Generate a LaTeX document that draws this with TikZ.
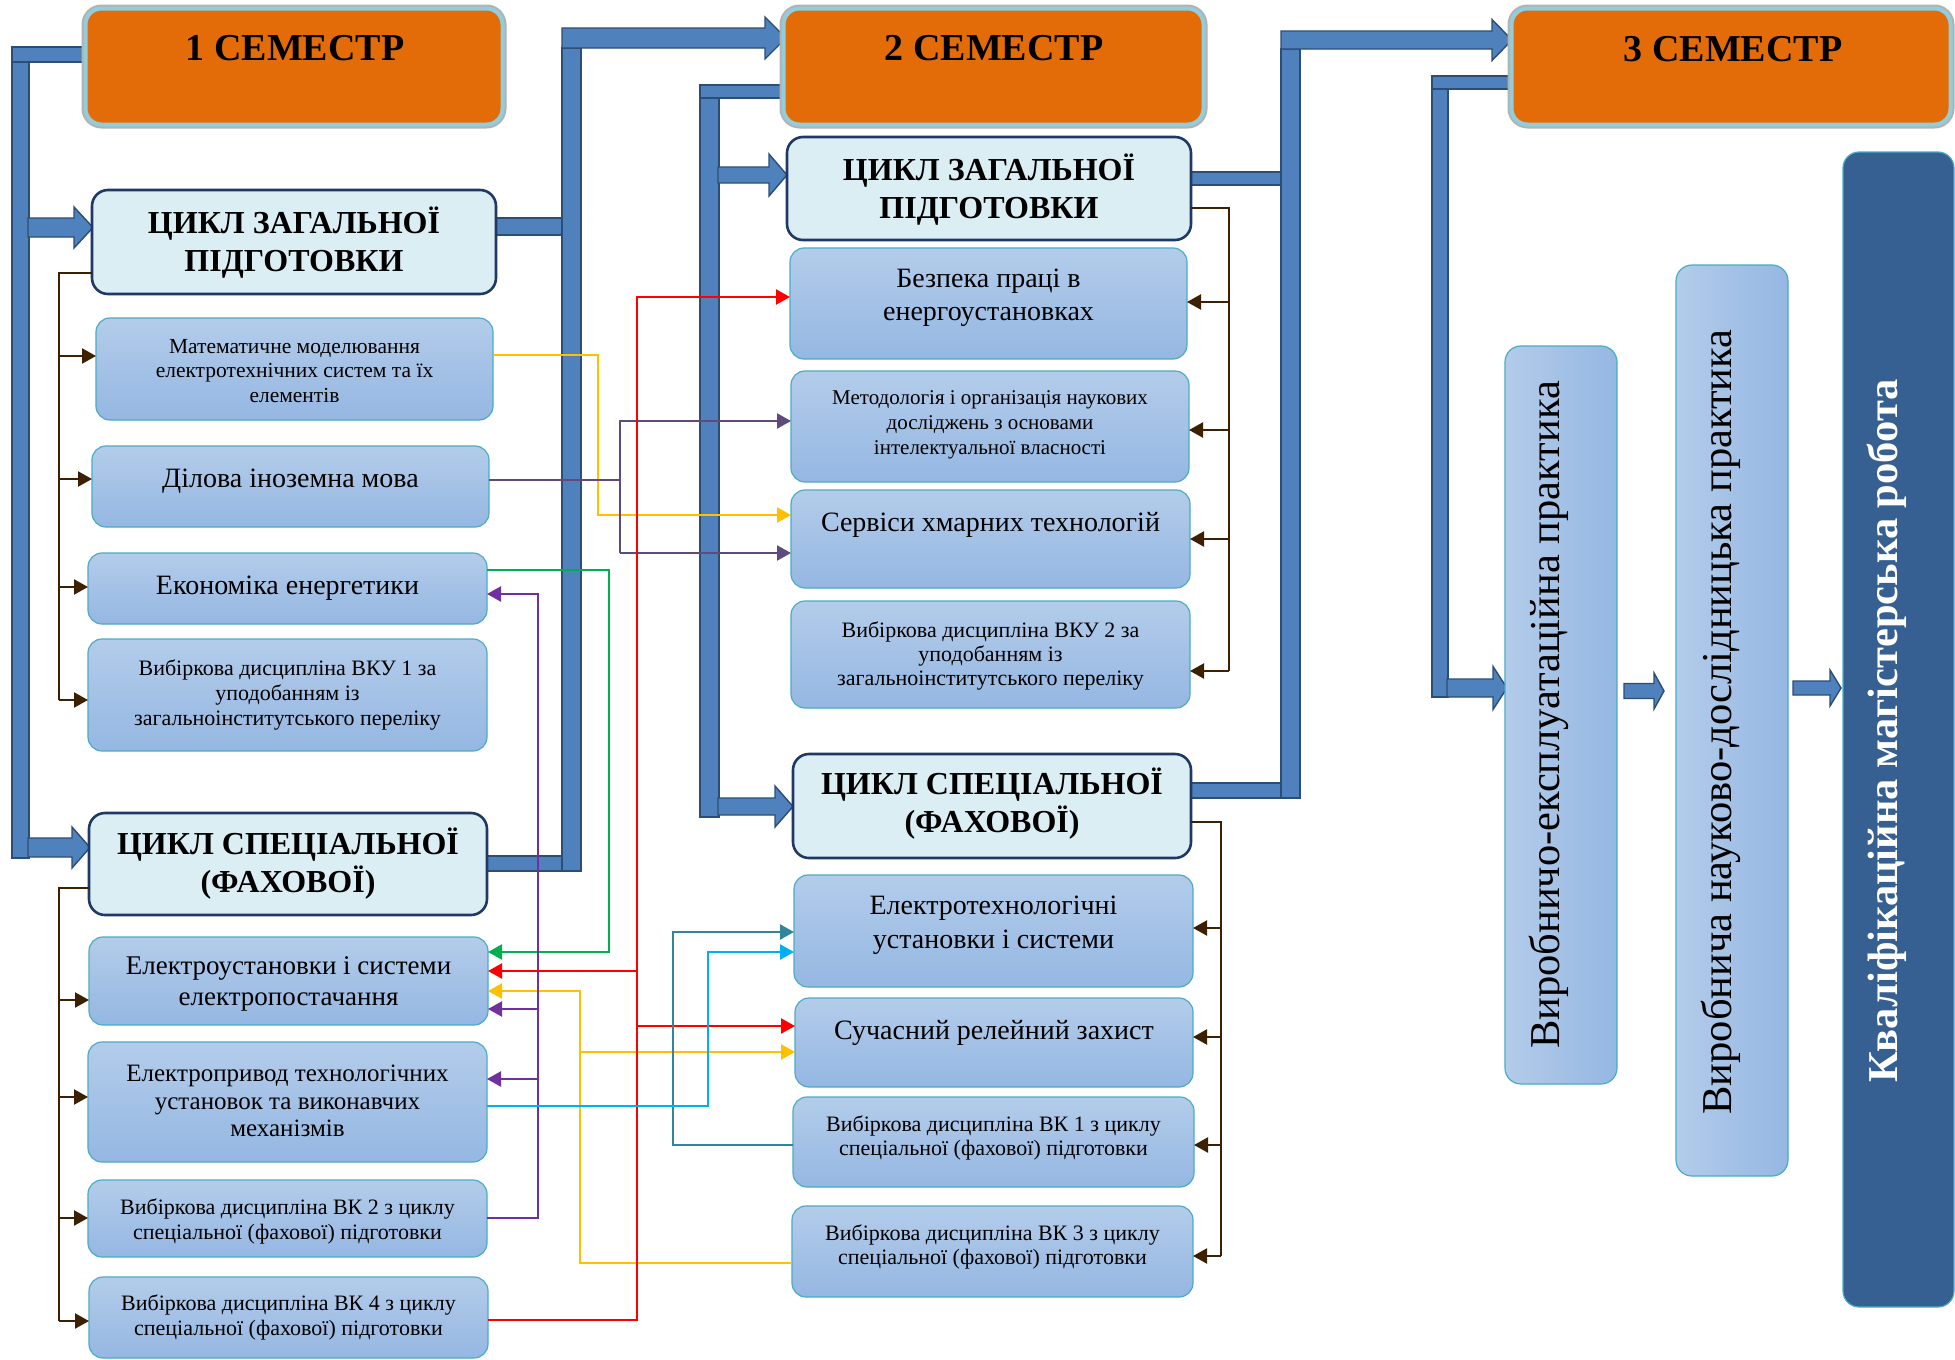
\documentclass[tikz,border=0pt]{standalone}
\usepackage{fontspec}
\setmainfont{Liberation Serif}
\usetikzlibrary{arrows.meta}
\definecolor{semor}{HTML}{E36C09}
\definecolor{semrim}{HTML}{92CDDC}
\definecolor{bandf}{HTML}{4F81BD}
\definecolor{bandd}{HTML}{2C4D75}
\definecolor{cycf}{HTML}{DBEEF4}
\definecolor{cycd}{HTML}{1F3864}
\definecolor{subt}{HTML}{B3CCEA}
\definecolor{subb}{HTML}{95B7E2}
\definecolor{subd}{HTML}{4BACC6}
\definecolor{qual}{HTML}{376092}
\definecolor{brn}{HTML}{3D1F02}
\definecolor{cyel}{HTML}{FFC000}
\definecolor{cred}{HTML}{FF0000}
\definecolor{cgrn}{HTML}{00B050}
\definecolor{cvio}{HTML}{7030A0}
\definecolor{cpur}{HTML}{604A7B}
\definecolor{cstl}{HTML}{31859C}
\definecolor{ccya}{HTML}{00B0F0}
\tikzset{
 band/.style={fill=bandf, draw=bandd, line width=1.4pt, line join=miter},
 sem/.style={rounded corners=16pt, fill=semor, draw=semrim, line width=4pt, preaction={draw=gray!60, line width=8pt}, inner sep=0pt, outer sep=0pt},
 cyc/.style={rounded corners=16pt, fill=cycf, draw=cycd, line width=2.6pt, inner sep=0pt, outer sep=0pt},
 subj/.style={rounded corners=14pt, top color=subt, bottom color=subb, draw=subd, line width=1.2pt, inner sep=0pt, outer sep=0pt},
 prac/.style={rounded corners=16pt, left color=subt, right color=subb, draw=subd, line width=1.2pt, inner sep=0pt, outer sep=0pt},
 qualbox/.style={rounded corners=16pt, fill=qual, draw=subd, line width=1.2pt, inner sep=0pt, outer sep=0pt},
 txt/.style={align=center, inner sep=0pt, text=black},
 semtxt/.style={txt, font=\bfseries\fontsize{38}{44}\selectfont},
 cyctxt/.style={txt, font=\bfseries\fontsize{32}{38}\selectfont},
 cline/.style={line width=2.2pt},
 brnline/.style={cline, draw=brn},
 arr/.style={-{Triangle[length=14pt,width=15pt]}},
}
\newcommand{\harrow}[6]{%
 \filldraw[band] (#1,#3-#4) -- (#2-#6,#3-#4) -- (#2-#6,#3-#5) -- (#2,#3) -- (#2-#6,#3+#5) -- (#2-#6,#3+#4) -- (#1,#3+#4) -- cycle;}
\begin{document}
\begin{tikzpicture}[x=1pt,y=-1pt]
\useasboundingbox (0,0) rectangle (1955,1360);
\fill[white] (0,0) rectangle (1955,1360);
% ---------- bands ----------
\filldraw[band] (12,62) rectangle (29,858);
\filldraw[band] (12,47) rectangle (86,62);
\harrow{28}{93}{227.5}{9.5}{20.5}{19}
\harrow{28}{90}{847.5}{9.5}{20.5}{18}
\filldraw[band] (496,218) rectangle (563,235);
\filldraw[band] (487,856) rectangle (563,871);
\filldraw[band] (562,48) rectangle (581,871);
\harrow{562}{786}{38}{10}{21}{21}
\filldraw[band] (700,85) rectangle (786,98);
\filldraw[band] (700,98) rectangle (719,817);
\harrow{718}{787}{175}{8}{21}{18}
\harrow{718}{793}{806.5}{8.5}{20.5}{18}
\filldraw[band] (1191,172) rectangle (1282,185);
\filldraw[band] (1191,783) rectangle (1282,798);
\filldraw[band] (1281,49) rectangle (1300,798);
\harrow{1281}{1512}{40}{9}{20.5}{20}
\filldraw[band] (1432,76) rectangle (1514,89);
\filldraw[band] (1432,89) rectangle (1448,697);
\harrow{1447}{1507}{688}{9}{21.5}{14}
\harrow{1624}{1664}{691}{7.5}{18}{10}
\harrow{1793}{1841}{688}{7}{18}{11}
% ---------- semester boxes ----------
\node[sem, minimum width=417pt, minimum height=116pt] (s1) at (294,66.5) {};
\node[semtxt] (s1t) at (295,48) {1 СЕМЕСТР};
\node[sem, minimum width=420pt, minimum height=116pt] (s2) at (993.5,66.5) {};
\node[semtxt] (s2t) at (994,48) {2 СЕМЕСТР};
\node[sem, minimum width=439pt, minimum height=116pt] (s3) at (1731,66.5) {};
\node[semtxt] (s3t) at (1733,49) {3 СЕМЕСТР};
% ---------- cycle boxes ----------
\node[cyc, minimum width=404pt, minimum height=104pt] (c1) at (294,242) {};
\node[cyctxt] (c1t) at (294,243) {ЦИКЛ ЗАГАЛЬНОЇ\\ПІДГОТОВКИ};
\node[cyc, minimum width=398pt, minimum height=102pt] (c2) at (288,864) {};
\node[cyctxt] (c2t) at (288,864) {ЦИКЛ СПЕЦІАЛЬНОЇ\\(ФАХОВОЇ)};
\node[cyc, minimum width=404pt, minimum height=103pt] (c3) at (989,188.5) {};
\node[cyctxt] (c3t) at (989,190) {ЦИКЛ ЗАГАЛЬНОЇ\\ПІДГОТОВКИ};
\node[cyc, minimum width=398pt, minimum height=104pt] (c4) at (992,806) {};
\node[cyctxt] (c4t) at (992,804) {ЦИКЛ СПЕЦІАЛЬНОЇ\\(ФАХОВОЇ)};
% ---------- semester 1 subjects ----------
\node[subj, minimum width=397pt, minimum height=102pt] (m1) at (294.5,369) {};
\node[txt, font=\fontsize{21.5}{24.5}\selectfont] (m1t) at (294.5,371) {Математичне моделювання\\електротехнічних систем та їх\\елементів};
\node[subj, minimum width=397pt, minimum height=81pt] (m2) at (290.5,486.5) {};
\node[txt, font=\fontsize{28}{32}\selectfont] (m2t) at (290.5,481) {Ділова іноземна мова};
\node[subj, minimum width=399pt, minimum height=71pt] (m3) at (287.5,588.5) {};
\node[txt, font=\fontsize{28}{32}\selectfont] (m3t) at (287.5,588) {Економіка енергетики};
\node[subj, minimum width=399pt, minimum height=112pt] (m4) at (287.5,695) {};
\node[txt, font=\fontsize{22}{25}\selectfont] (m4t) at (287.5,695) {Вибіркова дисципліна ВКУ 1 за\\уподобанням із\\загальноінститутського переліку};
\node[subj, minimum width=399pt, minimum height=88pt] (m5) at (288.5,981) {};
\node[txt, font=\fontsize{27}{31}\selectfont] (m5t) at (288.5,984) {Електроустановки і системи\\електропостачання};
\node[subj, minimum width=399pt, minimum height=120pt] (m6) at (287.5,1102) {};
\node[txt, font=\fontsize{25}{27.5}\selectfont] (m6t) at (287.5,1101) {Електропривод технологічних\\установок та виконавчих\\механізмів};
\node[subj, minimum width=399pt, minimum height=77pt] (m7) at (287.5,1218.5) {};
\node[txt, font=\fontsize{22}{25}\selectfont] (m7t) at (287.5,1221) {Вибіркова дисципліна ВК 2 з циклу\\спеціальної (фахової) підготовки};
\node[subj, minimum width=399pt, minimum height=81pt] (m8) at (288.5,1317.5) {};
\node[txt, font=\fontsize{22}{25}\selectfont] (m8t) at (288.5,1317) {Вибіркова дисципліна ВК 4 з циклу\\спеціальної (фахової) підготовки};
% ---------- semester 2 subjects ----------
\node[subj, minimum width=397pt, minimum height=111pt] (n1) at (988.5,303.5) {};
\node[txt, font=\fontsize{28}{33}\selectfont] (n1t) at (988.5,298) {Безпека праці в\\енергоустановках};
\node[subj, minimum width=398pt, minimum height=111pt] (n2) at (990,426.5) {};
\node[txt, font=\fontsize{21}{25}\selectfont] (n2t) at (990,425) {Методологія і організація наукових\\досліджень з основами\\інтелектуальної власності};
\node[subj, minimum width=399pt, minimum height=98pt] (n3) at (990.5,539) {};
\node[txt, font=\fontsize{28}{32}\selectfont] (n3t) at (990.5,525) {Сервіси хмарних технологій};
\node[subj, minimum width=399pt, minimum height=107pt] (n4) at (990.5,654.5) {};
\node[txt, font=\fontsize{22}{24}\selectfont] (n4t) at (990.5,656) {Вибіркова дисципліна ВКУ 2 за\\уподобанням із\\загальноінститутського переліку};
\node[subj, minimum width=399pt, minimum height=112pt] (n5) at (993.5,931) {};
\node[txt, font=\fontsize{28}{34}\selectfont] (n5t) at (993.5,925) {Електротехнологічні\\установки і системи};
\node[subj, minimum width=398pt, minimum height=89pt] (n6) at (994,1042.5) {};
\node[txt, font=\fontsize{28}{32}\selectfont] (n6t) at (994,1033) {Сучасний релейний захист};
\node[subj, minimum width=401pt, minimum height=90pt] (n7) at (993.5,1142) {};
\node[txt, font=\fontsize{22}{24.5}\selectfont] (n7t) at (993.5,1138) {Вибіркова дисципліна ВК 1 з циклу\\спеціальної (фахової) підготовки};
\node[subj, minimum width=401pt, minimum height=91pt] (n8) at (992.5,1251.5) {};
\node[txt, font=\fontsize{22}{24.5}\selectfont] (n8t) at (992.5,1247) {Вибіркова дисципліна ВК 3 з циклу\\спеціальної (фахової) підготовки};
% ---------- semester 3 ----------
\node[prac, minimum width=112pt, minimum height=738pt] (p1) at (1561,715) {};
\node[txt, rotate=90, font=\fontsize{42.5}{48}\selectfont] (p1t) at (1549,715) {Виробничо-експлуатаційна практика};
\node[prac, minimum width=112pt, minimum height=911pt] (p2) at (1732,720.5) {};
\node[txt, rotate=90, font=\fontsize{42.5}{48}\selectfont] (p2t) at (1721,722) {Виробнича науково-дослідницька практика};
\node[qualbox, minimum width=111pt, minimum height=1155pt] (p3) at (1898.5,729.5) {};
\node[txt, rotate=90, text=white, font=\bfseries\fontsize{42.5}{48}\selectfont] (p3t) at (1887,731) {Кваліфікаційна магістерська робота};
% ---------- brown cycle connectors ----------
\draw[brnline] (c1.west |- 0,273) -- (59,273) -- (59,700);
\foreach \n/\y in {m1/356,m2/479,m3/587,m4/700}
  \draw[brnline,arr] (59,\y) -- (\n.west |- 0,\y);
\draw[brnline] (c2.west |- 0,888) -- (59,888) -- (59,1321);
\foreach \n/\y in {m5/1000,m6/1097,m7/1218,m8/1321}
  \draw[brnline,arr] (59,\y) -- (\n.west |- 0,\y);
\draw[brnline] (c3.east |- 0,208) -- (1229,208) -- (1229,671);
\foreach \n/\y in {n1/302,n2/430,n3/539,n4/671}
  \draw[brnline,arr] (1229,\y) -- (\n.east |- 0,\y);
\draw[brnline] (c4.east |- 0,822) -- (1221,822) -- (1221,1256);
\foreach \n/\y in {n5/928,n6/1037,n7/1145,n8/1256}
  \draw[brnline,arr] (1221,\y) -- (\n.east |- 0,\y);
% ---------- coloured links ----------
\draw[cline,draw=cyel,arr] (m1.east |- 0,355) -- (598,355) -- (598,515) -- (n3.west |- 0,515);
\draw[cline,draw=cyel,arr] (n8.west |- 0,1263) -- (580,1263) -- (580,991) -- (m5.east |- 0,991);
\draw[cline,draw=cyel,arr] (580,1052) -- (n6.west |- 0,1052);
\draw[cline,draw=cpur] (m2.east |- 0,480) -- (620,480);
\draw[cline,draw=cpur,arr] (620,553) -- (620,421) -- (n2.west |- 0,421);
\draw[cline,draw=cpur,arr] (620,553) -- (n3.west |- 0,553);
\draw[cline,draw=cgrn,arr] (m3.east |- 0,570) -- (609,570) -- (609,952) -- (m5.east |- 0,952);
\draw[cline,draw=cvio,arr] (m7.east |- 0,1218) -- (538,1218) -- (538,594) -- (m3.east |- 0,594);
\draw[cline,draw=cvio,arr] (538,1009) -- (m5.east |- 0,1009);
\draw[cline,draw=cvio,arr] (538,1079) -- (m6.east |- 0,1079);
\draw[cline,draw=cred,arr] (m8.east |- 0,1320) -- (637,1320) -- (637,297) -- (n1.west |- 0,297);
\draw[cline,draw=cred,arr] (637,971) -- (m5.east |- 0,971);
\draw[cline,draw=cred,arr] (637,1026) -- (n6.west |- 0,1026);
\draw[cline,draw=cstl,arr] (n7.west |- 0,1145) -- (673,1145) -- (673,932) -- (n5.west |- 0,932);
\draw[cline,draw=ccya,arr] (m6.east |- 0,1106) -- (708,1106) -- (708,952) -- (n5.west |- 0,952);
\end{tikzpicture}
\end{document}
